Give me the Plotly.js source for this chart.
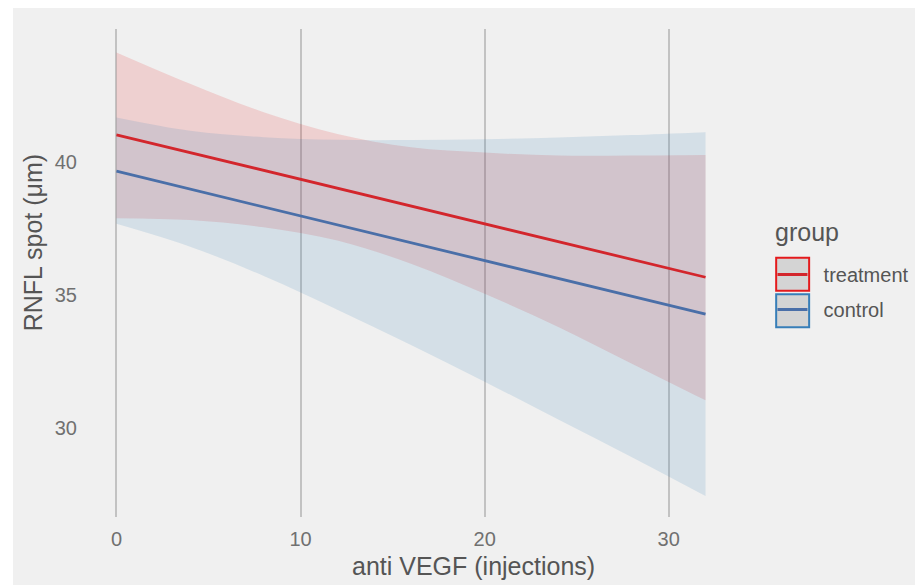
<!DOCTYPE html>
<html>
<head>
<meta charset="utf-8">
<script src="https://cdn.plot.ly/plotly-3.0.1.min.js"></script>
<style>
html, body { margin: 0; padding: 0; background: #ffffff; }
#chart { position: absolute; left: 13px; top: 8px; width: 902px; height: 577px; }
</style>
</head>
<body>
<div id="chart"></div>
<script>
// ---- data ----
const groups = ["treatment", "control"];
const bandX = [0, 4, 8, 12, 16, 20, 24, 28, 32];
const treatmentUpper = [44.13, 42.95, 41.88, 41.06, 40.56, 40.36, 40.25, 40.25, 40.27];
const treatmentLower = [37.89, 37.82, 37.55, 37.05, 36.18, 35.05, 33.80, 32.42, 31.04];
const controlUpper   = [41.68, 41.18, 40.94, 40.84, 40.83, 40.86, 40.93, 41.02, 41.13];
const controlLower   = [37.68, 36.82, 35.72, 34.45, 33.12, 31.74, 30.32, 28.90, 27.44];
const fitX = [0, 32];
const treatmentFit = [41.03, 35.67];
const controlFit   = [39.66, 34.28];
const xTicks = [0, 10, 20, 30];
const yTicks = [30, 35, 40];

// ---- styling ----
const lineColors = { treatment: "#d3262c", control: "#4a6fa8" };
const fillColors = { treatment: "rgba(228,26,28,0.15)", control: "rgba(55,126,184,0.15)" };
const keyColors  = { treatment: "#e41a1c", control: "#377eb8" };
const FONT = "Liberation Sans, Arial, Helvetica, sans-serif";
const PAD = "\u00a0\u00a0";

// plot area in page pixels (for positioning non-data elements)
const PL = 87, PR = 735.5, PT = 29.3, PB = 516.7;
const px = p => (p - PL) / (PR - PL);
const py = p => (PB - p) / (PB - PT);

function band(lower, upper, name) {
  return [
    { x: bandX, y: lower, type: "scatter", mode: "lines", line: { width: 0, shape: "spline", smoothing: 1 },
      hoverinfo: "skip", showlegend: false },
    { x: bandX, y: upper, type: "scatter", mode: "lines", line: { width: 0, shape: "spline", smoothing: 1 },
      fill: "tonexty", fillcolor: fillColors[name], hoverinfo: "skip", showlegend: false }
  ];
}

const traces = [
  ...band(treatmentLower, treatmentUpper, "treatment"),
  ...band(controlLower, controlUpper, "control"),
  { x: fitX, y: treatmentFit, type: "scatter", mode: "lines", name: PAD + groups[0], legendgroup: groups[0],
    line: { color: lineColors.treatment, width: 2.8 } },
  { x: fitX, y: controlFit, type: "scatter", mode: "lines", name: PAD + groups[1], legendgroup: groups[1],
    line: { color: lineColors.control, width: 2.8 } }
];

function keyBox(name, top) {
  return { type: "rect", xref: "paper", yref: "paper", layer: "above",
    x0: px(776.7), x1: px(809.7), y0: py(top), y1: py(top + 33),
    fillcolor: "#d4d4d4", line: { color: keyColors[name], width: 2 } };
}

const layout = {
  width: 902, height: 577,
  paper_bgcolor: "#f0f0f0", plot_bgcolor: "#f0f0f0",
  margin: { l: 74, r: 179.5, t: 21.3, b: 68.3, pad: 0, autoexpand: false },
  font: { family: FONT, color: "#6f6f6f" },
  showlegend: true,
  xaxis: {
    range: [-1.6, 33.6], tickvals: xTicks, ticktext: xTicks.map(String),
    showgrid: true, gridcolor: "#c2c2c2", gridwidth: 2, zeroline: false, showline: false,
    ticks: "", tickfont: { size: 20, color: "#707070" }, ticklabelstandoff: 8
  },
  yaxis: {
    range: [26.65, 45.01], tickvals: yTicks, ticktext: yTicks.map(String),
    showgrid: false, zeroline: false, showline: false,
    ticks: "", tickfont: { size: 20, color: "#707070" }, ticklabelstandoff: 9
  },
  legend: {
    x: px(773), y: py(255), xanchor: "left", yanchor: "top",
    bgcolor: "rgba(0,0,0,0)", borderwidth: 0,
    font: { size: 20, color: "#555555", family: FONT },
    tracegroupgap: 6, traceorder: "grouped", itemwidth: 30
  },
  shapes: [keyBox("treatment", 257.7), keyBox("control", 294.3)],
  annotations: [
    { text: "group", xref: "paper", yref: "paper", x: px(774), y: py(232),
      xanchor: "left", yanchor: "middle", showarrow: false,
      font: { size: 25, color: "#555555", family: FONT } },
    { text: "anti VEGF (injections)", xref: "paper", yref: "paper", x: px(474), y: py(566),
      xanchor: "center", yanchor: "middle", showarrow: false,
      font: { size: 25, color: "#555555", family: FONT } },
    { text: "RNFL spot (μm)", xref: "paper", yref: "paper", x: px(33), y: py(243.3),
      xanchor: "center", yanchor: "middle", showarrow: false, textangle: -90,
      font: { size: 25, color: "#555555", family: FONT } }
  ]
};

Plotly.newPlot("chart", traces, layout, { displayModeBar: false, staticPlot: true });
</script>
</body>
</html>
